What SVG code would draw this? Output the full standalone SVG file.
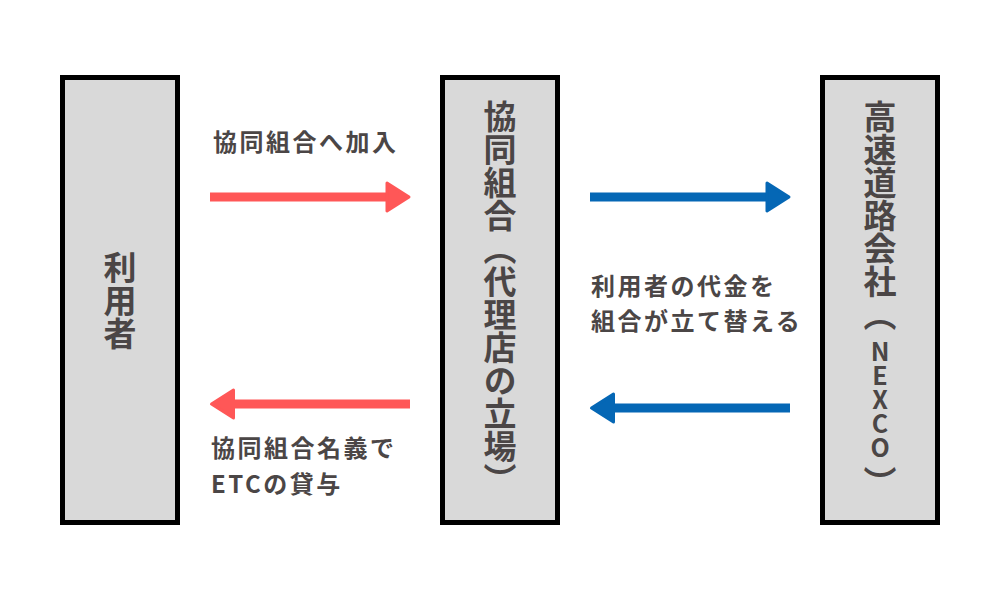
<svg xmlns="http://www.w3.org/2000/svg" width="1000" height="600" viewBox="0 0 1000 600">
  <defs>
    <style>
      .box { fill: #d9d9d9; stroke: #000000; stroke-width: 5; }
      .t { font-family: "Noto Sans CJK JP", "Noto Sans", sans-serif; font-weight: 700; fill: #4b4646; }
      .lbl { font-size: 24px; letter-spacing: 2.5px; }
      .vt { font-size: 33px; writing-mode: vertical-rl; }
      .lat { font-size: 25px; writing-mode: vertical-rl; text-orientation: upright; letter-spacing: -1px; }
      .red { stroke: #ff5757; stroke-width: 9; fill: none; }
      .blue { stroke: #0567b5; stroke-width: 9; fill: none; }
    </style>
    <marker id="headRed" markerUnits="userSpaceOnUse" viewBox="0 0 30 40" markerWidth="30" markerHeight="40" refX="4" refY="20" orient="auto">
      <path d="M4,6 L26,20 L4,34 Z" fill="#ff5757" stroke="#ff5757" stroke-width="3" stroke-linejoin="round"/>
    </marker>
    <marker id="headBlue" markerUnits="userSpaceOnUse" viewBox="0 0 30 40" markerWidth="30" markerHeight="40" refX="4" refY="20" orient="auto">
      <path d="M4,6 L26,20 L4,34 Z" fill="#0567b5" stroke="#0567b5" stroke-width="3" stroke-linejoin="round"/>
    </marker>
  </defs>
  <rect width="1000" height="600" fill="#ffffff"/>

  <g id="node-user">
    <rect class="box" x="62.5" y="77.5" width="115" height="445"/>
    <text class="t vt" x="120" y="251">利用者</text>
  </g>

  <g id="node-coop">
    <rect class="box" x="442.5" y="77.5" width="115" height="445"/>
    <text class="t vt" x="500" y="100">協同組合（代理店の立場）</text>
  </g>

  <g id="node-nexco">
    <rect class="box" x="822.5" y="77.5" width="115" height="445"/>
    <text class="t vt" x="880" y="100">高速道路会社（</text>
    <text class="t lat" x="880" y="339">NEXCO</text>
    <text class="t vt" x="880" y="466">）</text>
  </g>

  <g id="connectors">
    <line class="red" x1="210" y1="197" x2="387" y2="197" marker-end="url(#headRed)"/>
    <line class="blue" x1="590" y1="197" x2="767" y2="197" marker-end="url(#headBlue)"/>
    <line class="red" x1="410" y1="404" x2="233.5" y2="404" marker-end="url(#headRed)"/>
    <line class="blue" x1="790" y1="408" x2="613.5" y2="408" marker-end="url(#headBlue)"/>
  </g>

  <g id="labels">
    <text class="t lbl" x="213" y="151">協同組合へ加入</text>
    <text class="t lbl" x="591" y="295">利用者の代金を</text>
    <text class="t lbl" x="591" y="330">組合が立て替える</text>
    <text class="t lbl" x="211" y="457">協同組合名義で</text>
    <text class="t lbl" x="211" y="493">ETCの貸与</text>
  </g>
</svg>
